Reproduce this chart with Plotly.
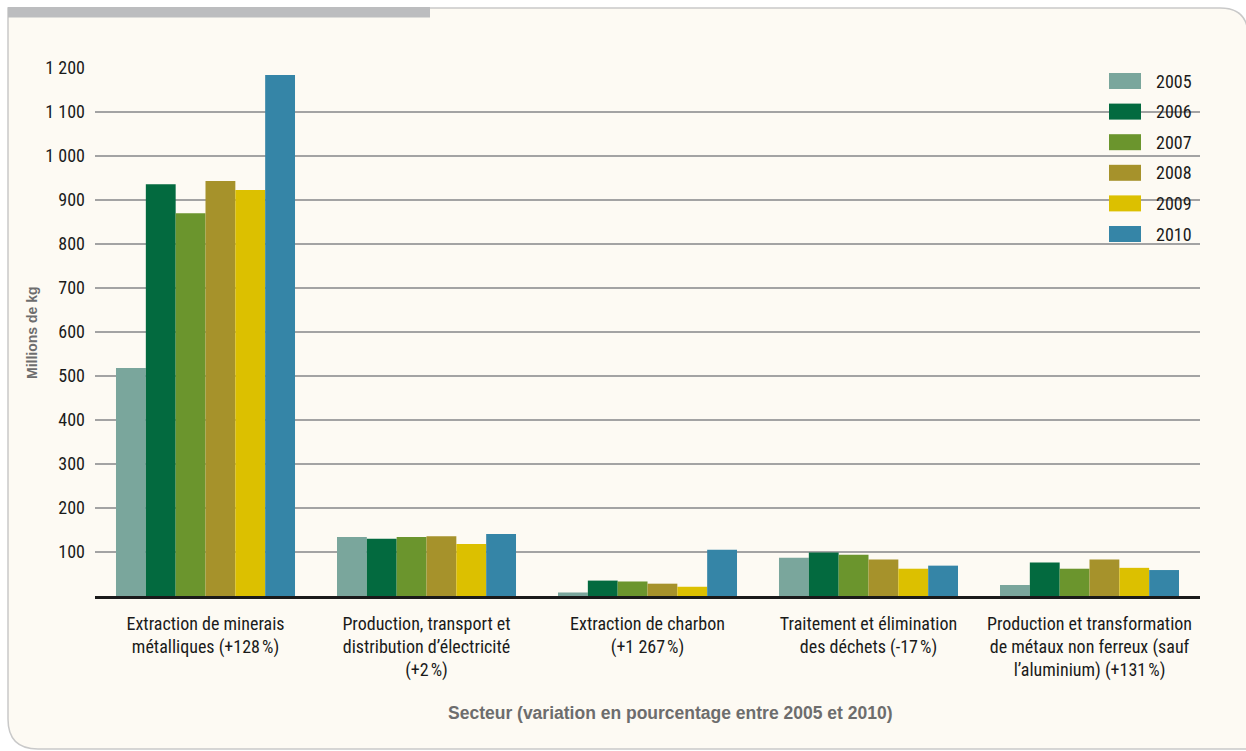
import plotly.graph_objects as go

# Sectors (x categories), one label line per <br>
sectors = [
    "Extraction de minerais<br>métalliques (+128\u202f%)",
    "Production, transport et<br>distribution d’électricité<br>(+2\u202f%)",
    "Extraction de charbon<br>(+1 267\u202f%)",
    "Traitement et élimination<br>des déchets (-17\u202f%)",
    "Production et transformation<br>de métaux non ferreux (sauf<br>l’aluminium) (+131\u202f%)",
]

years = ["2005", "2006", "2007", "2008", "2009", "2010"]

# Millions de kg, per year, in sector order
v2005 = [518, 134, 8, 87, 25]
v2006 = [936, 130, 35, 99, 76]
v2007 = [870, 134, 33, 94, 62]
v2008 = [943, 136, 28, 83, 83]
v2009 = [923, 118, 21, 62, 64]
v2010 = [1184, 141, 105, 69, 59]
series = [v2005, v2006, v2007, v2008, v2009, v2010]

colors = ["#7aa69c", "#036a3f", "#6b952d", "#a6922b", "#dcc000", "#3585a7"]

y_ticks = [100, 200, 300, 400, 500, 600, 700, 800, 900, 1000, 1100, 1200]
y_tick_text = ["100", "200", "300", "400", "500", "600", "700", "800", "900",
               "1 000", "1 100", "1 200"]

W, H = 1246, 751
L, R, T, B = 95, 46, 68, 155
PW, PH = W - L - R, H - T - B

NARROW = "Roboto Condensed, Liberation Sans Narrow, sans-serif"
BOLD = "Liberation Sans, Arial, sans-serif"


def px(x):
    return (x - L) / PW


def py(y):
    return (H - B - y) / PH


fig = go.Figure()
for name, vals, col in zip(years, series, colors):
    fig.add_trace(go.Bar(x=sectors, y=vals, name=name, marker_color=col,
                         marker_line_width=0, showlegend=False))

shapes = []
# cream panel with rounded corners
panel = (f"M {px(8)},{py(8)} L {px(1220)},{py(8)} "
         f"Q {px(1248)},{py(8)} {px(1248)},{py(36)} "
         f"L {px(1248)},{py(749)} L {px(38)},{py(749)} "
         f"Q {px(8)},{py(749)} {px(8)},{py(719)} Z")
shapes.append(dict(type="path", xref="paper", yref="paper", path=panel,
                   fillcolor="#fdfaf3", line=dict(color="#c9c9c9", width=1.5),
                   layer="below"))
# grey band on the top edge
shapes.append(dict(type="rect", xref="paper", yref="paper",
                   x0=px(8), x1=px(430), y0=py(17.5), y1=py(7),
                   fillcolor="#bcbdbf", line=dict(width=0), layer="below"))

annotations = []
# legend: wide swatches with year labels
for i, (name, col) in enumerate(zip(years, colors)):
    yc = 81 + i * 30.6
    shapes.append(dict(type="rect", xref="paper", yref="paper",
                       x0=px(1109), x1=px(1141), y0=py(yc + 8), y1=py(yc - 8),
                       fillcolor=col, line=dict(width=0)))
    annotations.append(dict(xref="paper", yref="paper", x=px(1154), y=py(yc),
                            text=name, showarrow=False, xanchor="left",
                            yanchor="middle",
                            font=dict(family=NARROW, size=18, color="#1a1a1a")))

# axis titles
annotations.append(dict(xref="paper", yref="paper", x=px(32), y=py(333),
                        text="<b>Millions de kg</b>", showarrow=False,
                        textangle=-90, xanchor="center", yanchor="middle",
                        font=dict(family=BOLD, size=14, color="#6d6d6d")))
annotations.append(dict(xref="paper", yref="paper", x=px(670), y=py(713),
                        text="<b>Secteur (variation en pourcentage entre 2005 et 2010)</b>",
                        showarrow=False, xanchor="center", yanchor="middle",
                        font=dict(family=BOLD, size=17.5, color="#6d6d6d")))

fig.update_layout(
    width=W, height=H,
    margin=dict(l=L, r=R, t=T, b=B, pad=0),
    paper_bgcolor="#ffffff",
    plot_bgcolor="rgba(0,0,0,0)",
    barmode="group",
    bargap=0.19,
    bargroupgap=0,
    shapes=shapes,
    annotations=annotations,
    xaxis=dict(
        type="category",
        showgrid=False,
        showline=True, linecolor="#1a1a1a", linewidth=3,
        ticks="", tickangle=0,
        ticklabelstandoff=9,
        tickfont=dict(family=NARROW, size=18, color="#1a1a1a"),
        zeroline=False,
    ),
    yaxis=dict(
        range=[0, 1200],
        tickvals=y_ticks, ticktext=y_tick_text,
        showgrid=True, gridcolor="#a3a3a3", gridwidth=2,
        zeroline=False, showline=False, ticks="",
        ticklabelstandoff=9,
        tickfont=dict(family=NARROW, size=18, color="#1a1a1a"),
    ),
)

fig.write_html("out.html")
